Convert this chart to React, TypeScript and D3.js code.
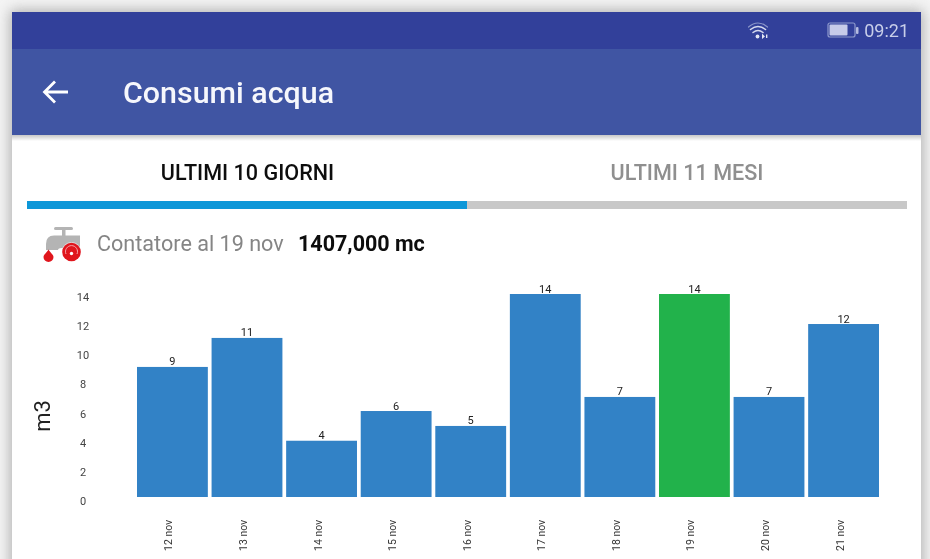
import React from "react";
import * as d3 from "d3";

const days = ["12 nov", "13 nov", "14 nov", "15 nov", "16 nov", "17 nov", "18 nov", "19 nov", "20 nov", "21 nov"];
const values = [9, 11, 4, 6, 5, 14, 7, 14, 7, 12];
const barHeights = [8.97, 10.97, 3.88, 5.93, 4.9, 14, 6.9, 14, 6.9, 11.93];
const yTicks = [0, 2, 4, 6, 8, 10, 12, 14];
const highlightDay = "19 nov";

const font = "Roboto, sans-serif";

export default function App() {
  const x = d3.scaleBand<string>().domain(days).range([137, 879]).paddingInner(0.05).paddingOuter(0);
  const y = d3.scaleLinear().domain([0, 14]).range([497, 294]);
  const tickY = d3.scaleLinear().domain([0, 14]).range([505, 301]);
  return (
    <svg width={930} height={559} style={{ position: "absolute", left: 0, top: 0, background: "#fff" }} fontFamily={font}>
      <defs>
        <filter id="shadow" x="-5%" y="-5%" width="110%" height="110%">
          <feGaussianBlur stdDeviation="7" />
        </filter>
        <filter id="soft" x="-5%" y="-5%" width="110%" height="110%">
          <feGaussianBlur stdDeviation="0.45" />
        </filter>
        <linearGradient id="bar" x1="0" x2="0" y1="0" y2="1">
          <stop offset="0" stopColor="#000" stopOpacity="0.22" />
          <stop offset="1" stopColor="#000" stopOpacity="0" />
        </linearGradient>
      </defs>
      <rect x={0} y={0} width={930} height={559} fill="#f4f4f4" />
      <rect x={10} y={10} width={913} height={600} fill="#777" opacity={0.55} filter="url(#shadow)" />
      <g filter="url(#soft)">
        <rect x={12} y={12} width={909} height={547} fill="#fff" />
        <rect x={12} y={12} width={909} height={37} fill="#30409a" />
        <rect x={12} y={49} width={909} height={86} fill="#4154a3" />
        <rect x={12} y={135} width={909} height={6} fill="url(#bar)" />

        {/* status bar */}
        <g fill="none" stroke="#d5d9ee" strokeLinecap="round">
          <path d="M748.5 27 Q758 19 767.5 27" strokeWidth={1.2} opacity={0.55} />
          <path d="M750.5 29.5 Q758 23.5 765.5 29.5" strokeWidth={1.6} />
          <path d="M753 32.5 Q758 28.5 763 32.5" strokeWidth={1.6} />
        </g>
        <circle cx={757.5} cy={36.5} r={1.9} fill="#e2e5f4" />
        <path d="M762 33.5 L765 36.5 L762 39 Z M766 34.5 h1.4 v3.6 h-1.4 Z" fill="#e2e5f4" />
        <rect x={828} y={23} width={27} height={14} rx={2} fill="none" stroke="#8f99cc" strokeWidth={1.2} />
        <rect x={829.5} y={24.5} width={18} height={11} rx={1} fill="#c6cbe9" />
        <rect x={856} y={27} width={2.5} height={7} rx={1} fill="#b5bce0" />
        <text x={909} y={37} textAnchor="end" fontSize={18} fill="#c9cee9">09:21</text>

        {/* app bar */}
        <path d="M45 92 H68 M55 81.5 L44.5 92 L55 102.5" fill="none" stroke="#fff" strokeWidth={2.8} />
        <text x={123} y={103} fontSize={30.4} fontWeight={500} fill="#f6f7fc">Consumi acqua</text>

        {/* tabs */}
        <text x={247.5} y={180} textAnchor="middle" fontSize={21.6} fontWeight={500} fill="#111">ULTIMI 10 GIORNI</text>
        <text x={687} y={180} textAnchor="middle" fontSize={21.6} fontWeight={500} fill="#8f8f8f">ULTIMI 11 MESI</text>
        <rect x={27} y={201} width={440} height={8} fill="#0a97d8" />
        <rect x={467} y={201} width={440} height={8} fill="#c8c8c8" />

        {/* meter row */}
        <g>
          <rect x={54} y={227} width={19} height={3} rx={1.5} fill="#b4b4b4" />
          <rect x={62} y={229} width={3.5} height={7} fill="#b4b4b4" />
          <path d="M46 250 V244 Q46 235.5 54 235.5 H80 V248 H62 Q58 248 58 250 Z" fill="#b4b4b4" />
          <path d="M48.5 249.5 C46.5 253 43.5 254.5 43.5 257 A5 5 0 0 0 53.5 257 C53.5 254.5 50.5 253 48.5 249.5 Z" fill="#e0141e" />
          <circle cx={71.5} cy={252} r={10} fill="#fff" opacity={0.6} />
          <circle cx={71.5} cy={252} r={9.3} fill="#e0141e" />
          <path d="M66 254 A6 6 0 1 1 77 254" fill="none" stroke="#f7b6b8" strokeWidth={0.9} />
          <circle cx={71.5} cy={253.5} r={1.7} fill="#fff" />
        </g>
        <text x={97} y={251} fontSize={21.6} fill="#858585">Contatore al 19 nov</text>
        <text x={298} y={251} fontSize={21.5} fontWeight={700} fill="#0c0c0c">1407,000 mc</text>

        {/* chart */}
        <text transform="translate(50,416) rotate(-90)" textAnchor="middle" fontSize={22} fill="#222">m3</text>
        {yTicks.map((t) => (
          <text key={t} x={83} y={tickY(t)} textAnchor="middle" fontSize={11} fill="#444">{t}</text>
        ))}
        {days.map((d, i) => (
          <g key={d}>
            <rect
              x={x(d)}
              y={y(barHeights[i])}
              width={x.bandwidth()}
              height={y(0) - y(barHeights[i])}
              fill={d === highlightDay ? "#20b24b" : "#3382c6"}
            />
            <text x={x(d)! + x.bandwidth() / 2} y={y(barHeights[i]) - 1.5} textAnchor="middle" fontSize={11} fill="#222">
              {values[i]}
            </text>
            <text
              transform={`translate(${x(d)! + x.bandwidth() / 2},551) rotate(-90)`}
              fontSize={10.5}
              fill="#333"
            >
              {d}
            </text>
          </g>
        ))}
      </g>
    </svg>
  );
}
